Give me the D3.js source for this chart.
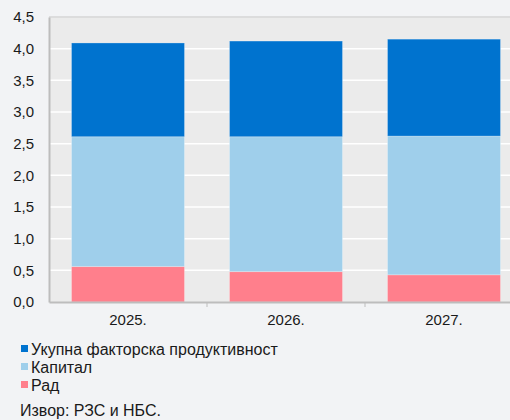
<!DOCTYPE html>
<html><head><meta charset="utf-8">
<script src="https://cdn.jsdelivr.net/npm/d3@7"></script>
<style>
html,body{margin:0;padding:0;background:#f2f3f5;overflow:hidden;}
svg{display:block;font-family:"Liberation Sans",Arial,sans-serif;}
</style></head>
<body><svg id="c" width="510" height="420"></svg>
<script>
const categories = ["2025.", "2026.", "2027."];
const rad = [0.56, 0.48, 0.43];
const kapital = [2.05, 2.13, 2.19];
const ukupna = [1.48, 1.51, 1.53];
const yTicks = [0, 0.5, 1.0, 1.5, 2.0, 2.5, 3.0, 3.5, 4.0, 4.5];
const seriesNames = ["Укупна факторска продуктивност", "Капитал", "Рад"];
const colors = {"Рад": "#ff7f8c", "Капитал": "#9fcfeb", "Укупна факторска продуктивност": "#0073cf"};
const source = "Извор: РЗС и НБС.";

const FONT = "'Liberation Sans', Arial, sans-serif";
const svg = d3.select("#c");
const L = 49, T = 17, B = 302, R = 523;
const x = d3.scaleBand().domain(categories).range([L, R]).paddingInner(0.285).paddingOuter(0.1425);
const y = d3.scaleLinear().domain([0, 4.5]).range([B, T]);

svg.append("rect").attr("x", L).attr("y", T).attr("width", R - L).attr("height", B - T).attr("fill", "#ebebeb");

svg.append("g").selectAll("line").data(yTicks.slice(1)).join("line")
  .attr("x1", L).attr("x2", R).attr("y1", d => y(d)).attr("y2", d => y(d))
  .attr("stroke", "#ffffff").attr("stroke-width", 1.5);

const rows = categories.map((c, i) => ({cat: c, "Рад": rad[i], "Капитал": kapital[i], "Укупна факторска продуктивност": ukupna[i]}));
const stack = d3.stack().keys(["Рад", "Капитал", "Укупна факторска продуктивност"])(rows);

svg.append("g").selectAll("g").data(stack).join("g").attr("fill", d => colors[d.key])
  .selectAll("rect").data(d => d).join("rect")
  .attr("x", d => x(d.data.cat)).attr("width", x.bandwidth())
  .attr("y", d => y(d[1])).attr("height", d => y(d[0]) - y(d[1]))
  .attr("stroke", "rgba(255,255,255,0.25)").attr("stroke-width", 1);

svg.append("line").attr("x1", L).attr("x2", R).attr("y1", T).attr("y2", T).attr("stroke", "#bdbdbd").attr("stroke-width", 1);

const yAxis = d3.axisLeft(y).tickValues(yTicks).tickSize(0).tickPadding(15).tickFormat(d => d3.format(".1f")(d).replace(".", ","));
const gy = svg.append("g").attr("transform", `translate(${L},0)`).call(yAxis);
gy.select(".domain").attr("stroke", "#bdbdbd").attr("stroke-width", 2);
gy.selectAll("text").attr("font-size", 15).attr("fill", "#1a1a1a").attr("font-family", FONT);

const xAxis = d3.axisBottom(x).tickSize(0).tickPadding(12);
const gx = svg.append("g").attr("transform", `translate(0,${B})`).call(xAxis);
gx.select(".domain").attr("stroke", "#bdbdbd").attr("stroke-width", 2);
gx.selectAll("text").attr("font-size", 15).attr("fill", "#1a1a1a").attr("font-family", FONT);

const step = x.step();
svg.append("g").selectAll("line").data(categories.slice(1)).join("line")
  .attr("x1", d => x(d) - step * x.paddingInner() / 2).attr("x2", d => x(d) - step * x.paddingInner() / 2)
  .attr("y1", B).attr("y2", B + 5).attr("stroke", "#bdbdbd").attr("stroke-width", 1);

const lg = svg.append("g").attr("font-family", FONT);
seriesNames.forEach((n, i) => {
  const cy = 349 + i * 18;
  lg.append("rect").attr("x", 21).attr("y", cy - 4).attr("width", 7).attr("height", 7).attr("fill", colors[n]);
  lg.append("text").attr("x", 31).attr("y", cy).attr("dy", "0.36em").attr("font-size", 16).attr("fill", "#1a1a1a").text(n);
});
svg.append("text").attr("x", 20).attr("y", 410).attr("dy", "0.36em").attr("font-size", 16).attr("font-family", FONT).attr("fill", "#1a1a1a").text(source);
</script></body></html>
